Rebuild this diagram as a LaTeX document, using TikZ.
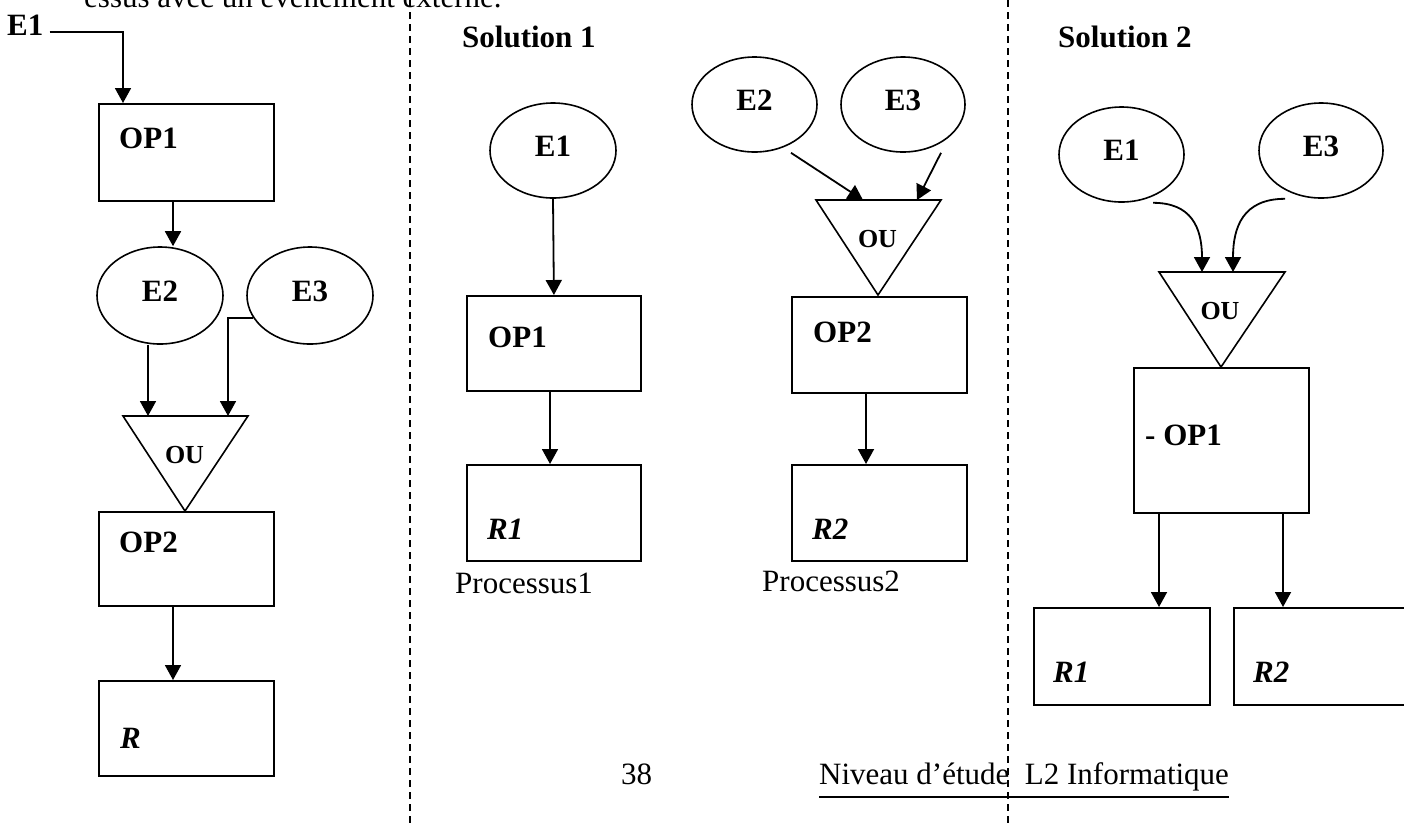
\documentclass[tikz,border=0pt]{standalone}
\usepackage{fontspec}
\setmainfont{Liberation Serif}
\usetikzlibrary{arrows.meta,shapes.geometric}
\newcommand\lblfont{\fontsize{31}{36}\selectfont\bfseries}
\newcommand\oufont{\fontsize{26}{30}\selectfont\bfseries}
\newcommand\txtfont{\fontsize{31}{36}\selectfont}
\begin{document}
\begin{tikzpicture}[x=1pt,y=-1pt,
    box/.style={draw,line width=1.8pt,minimum width=175,minimum height=96,inner sep=0,anchor=north west},
    ev/.style={draw,ellipse,line width=1.6pt,minimum width=125,minimum height=95,inner sep=0,font=\lblfont,text height=21pt,text depth=10pt},
    lbl/.style={inner sep=0,anchor=base west,font=\lblfont},
    res/.style={inner sep=0,anchor=base west,font=\lblfont\itshape},
    txt/.style={inner sep=0,anchor=base west,font=\txtfont},
    ou/.style={inner sep=0,anchor=base,font=\oufont},
    arr/.style={line width=1.8pt,-{Triangle[length=15pt,width=16pt]}},
    sep/.style={line width=1.5pt,dash pattern=on 7pt off 5pt}]
  \useasboundingbox (0,0) rectangle (1404,823);
  \foreach \xd in {410,1008}
    \draw[sep] (\xd,0) -- (\xd,823);
  \node[txt] (hd) at (84,7) {essus avec un événement externe.};

  \node[lbl] (e1) at (7,35) {E1};
  \node[box,minimum height=97] (op1) at (98,103) {};
  \node[lbl] (op1t) at ([shift={(21,45)}]op1.north west) {OP1};
  \node[ev,minimum width=126,minimum height=97] (e2) at (160,295.5) {E2};
  \node[ev,minimum width=126,minimum height=97] (e3) at (310,295.5) {E3};
  \coordinate (ta) at (123,416);
  \coordinate (tb) at (248,416);
  \coordinate (tc) at (185,511);
  \draw[line width=1.6pt] (ta) -- (tb) -- (tc) -- cycle;
  \node[ou] (ou) at (184.5,463) {OU};
  \node[box,minimum height=94] (op2) at (98,511) {};
  \node[lbl] (op2t) at ([shift={(21,41)}]op2.north west) {OP2};
  \node[box,minimum height=95] (r) at (98,680) {};
  \node[res] (rt) at ([shift={(22,68)}]r.north west) {R};
  \draw[arr] ([shift={(6,-3)}]e1.base east) -| ([xshift=25]op1.north west);
  \draw[arr] ([xshift=75]op1.south west) -- ([xshift=75]op1.south west |- e2.north);
  \draw[arr] ([xshift=-12]e2.south) -- ([xshift=-12]e2.south |- ta);
  \draw[arr] (e3.202) -| ([xshift=105]ta);
  \draw[arr] ([xshift=75]op2.south west) -- ([xshift=75]r.north west);

  \node[lbl] (sol1) at (462,47) {Solution 1};
  \node[ev,minimum width=126] (s1e1) at (553,150.5) {E1};
  \node[box,minimum width=174,minimum height=95] (s1op1) at (466,295) {};
  \node[lbl] (s1op1t) at ([shift={(22,52)}]s1op1.north west) {OP1};
  \node[box,minimum width=174] (s1r1) at (466,464) {};
  \node[res] (s1r1t) at ([shift={(21,75)}]s1r1.north west) {R1};
  \node[txt] (p1) at (455,593) {Processus1};
  \draw[arr] (s1e1.south) -- (s1op1.north);
  \draw[arr] ([xshift=84]s1op1.south west) -- ([xshift=84]s1r1.north west);

  \node[ev] (s1e2) at (754.5,104.5) {E2};
  \node[ev,minimum width=124] (s1e3) at (903,104.5) {E3};
  \coordinate (s1ta) at (816,200);
  \coordinate (s1tb) at (941,200);
  \coordinate (s1tc) at (878,295);
  \draw[line width=1.6pt] (s1ta) -- (s1tb) -- (s1tc) -- cycle;
  \node[ou] (s1ou) at (877.5,247) {OU};
  \node[box] (s1op2) at (791,296) {};
  \node[lbl] (s1op2t) at ([shift={(22,46)}]s1op2.north west) {OP2};
  \node[box] (s1r2) at (791,464) {};
  \node[res] (s1r2t) at ([shift={(21,75)}]s1r2.north west) {R2};
  \node[txt] (p2) at (762,591) {Processus2};
  \draw[arr] ([xshift=36.5]s1e2.south) -- ([xshift=47]s1ta);
  \draw[arr] ([xshift=38]s1e3.south) -- ([xshift=101]s1ta);
  \draw[arr] ([xshift=75]s1op2.south west) -- ([xshift=75]s1r2.north west);

  \node[lbl] (sol2) at (1058,47) {Solution 2};
  \node[ev] (s2e1) at (1121.5,154.5) {E1};
  \node[ev,minimum width=124] (s2e3) at (1321,150.5) {E3};
  \coordinate (s2ta) at (1159,272);
  \coordinate (s2tb) at (1285,272);
  \coordinate (s2tc) at (1221,367);
  \draw[line width=1.6pt] (s2ta) -- (s2tb) -- (s2tc) -- cycle;
  \node[ou] (s2ou) at (1220,319) {OU};
  \node[box,minimum height=145] (s2op1) at (1133,367) {};
  \node[lbl] (s2op1t) at ([shift={(12,78)}]s2op1.north west) {- OP1};
  \node[box,minimum width=176,minimum height=97] (s2r1) at (1033,607) {};
  \node[res] (s2r1t) at ([shift={(20,75)}]s2r1.north west) {R1};
  \node[box,minimum width=176,minimum height=97] (s2r2) at (1233,607) {};
  \node[res] (s2r2t) at ([shift={(20,75)}]s2r2.north west) {R2};
  \draw[arr] ([xshift=31.5]s2e1.south) .. controls +(38,0) and +(0,-45) .. ([xshift=43]s2ta);
  \draw[arr] ([xshift=-36]s2e3.south) .. controls +(-42,0) and +(0,-45) .. ([xshift=74]s2ta);
  \draw[arr] ([xshift=26]s2op1.south west) -- ([xshift=26]s2op1.south west |- s2r1.north);
  \draw[arr] ([xshift=150]s2op1.south west) -- ([xshift=150]s2op1.south west |- s2r2.north);

  \node[txt] (pg) at (621,784) {38};
  \node[txt] (nv) at (819,784) {Niveau d’étude~ L2 Informatique};
  \draw[line width=1.5pt] ([yshift=-13]nv.base west) -- ([yshift=-13]nv.base east);
\end{tikzpicture}
\end{document}
